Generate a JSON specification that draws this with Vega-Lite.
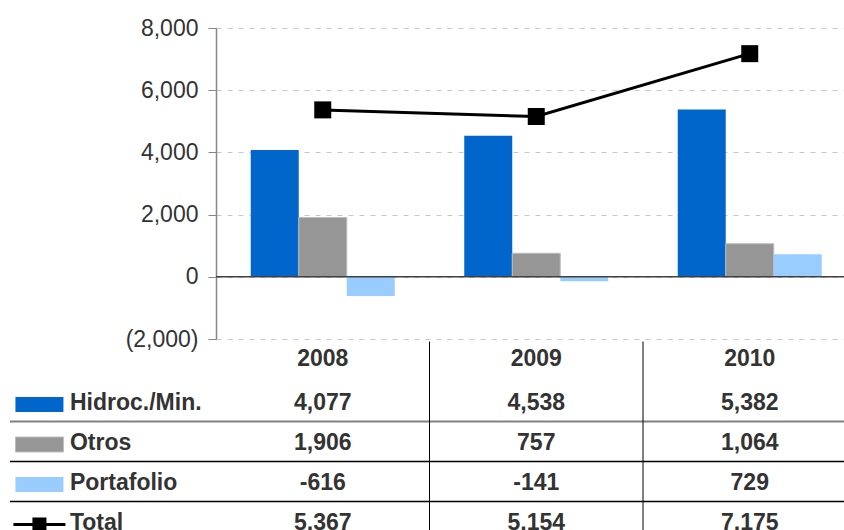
{
  "$schema": "https://vega.github.io/schema/vega-lite/v6.json",
  "width": 628,
  "height": 311,
  "autosize": {"type": "none"},
  "padding": {"left": 216, "top": 28, "right": 0, "bottom": 191},
  "background": "white",
  "config": {
    "font": "Liberation Sans",
    "view": {"stroke": null},
    "locale": {
      "number": {"decimal": ".", "thousands": ",", "grouping": [3], "currency": ["$", ""], "minus": "-"}
    }
  },
  "datasets": {
    "flujos": [
      {"year": "2008", "serie": "Hidroc./Min.", "value": 4077},
      {"year": "2008", "serie": "Otros", "value": 1906},
      {"year": "2008", "serie": "Portafolio", "value": -616},
      {"year": "2008", "serie": "Total", "value": 5367},
      {"year": "2009", "serie": "Hidroc./Min.", "value": 4538},
      {"year": "2009", "serie": "Otros", "value": 757},
      {"year": "2009", "serie": "Portafolio", "value": -141},
      {"year": "2009", "serie": "Total", "value": 5154},
      {"year": "2010", "serie": "Hidroc./Min.", "value": 5382},
      {"year": "2010", "serie": "Otros", "value": 1064},
      {"year": "2010", "serie": "Portafolio", "value": 729},
      {"year": "2010", "serie": "Total", "value": 7175}
    ]
  },
  "data": {"name": "flujos"},
  "resolve": {"scale": {"x": "independent", "y": "independent"}},
  "layer": [
    {
      "layer": [
        {
          "transform": [{"filter": "datum.serie !== 'Total'"}],
          "mark": {"type": "bar", "stroke": "#bdbdbd"},
          "encoding": {
            "x": {
              "field": "year", "type": "nominal",
              "scale": {"domain": ["2008", "2009", "2010"], "range": [0, 640.5], "paddingInner": 0.3255, "paddingOuter": 0.16275},
              "axis": null
            },
            "xOffset": {
              "field": "serie", "type": "nominal",
              "scale": {"domain": ["Hidroc./Min.", "Otros", "Portafolio"], "paddingInner": 0, "paddingOuter": 0}
            },
            "y": {
              "field": "value", "type": "quantitative",
              "scale": {"domain": [-2000, 8000], "nice": false, "zero": false},
              "axis": {
                "values": [-2000, 0, 2000, 4000, 6000, 8000],
                "labelExpr": "datum.value < 0 ? '(' + format(-datum.value, ',') + ')' : format(datum.value, ',') + '\u2008'",
                "labelFontSize": 23,
                "labelColor": "#333333",
                "labelPadding": 10,
                "tickSize": 8,
                "tickColor": "#868686",
                "domainColor": "#868686",
                "domainWidth": 1.5,
                "grid": true,
                "gridColor": "#c8c8c8",
                "gridDash": [5, 6],
                "gridWidth": 1,
                "title": null
              }
            },
            "color": {
              "field": "serie", "type": "nominal",
              "scale": {"domain": ["Hidroc./Min.", "Otros", "Portafolio", "Total"], "range": ["#0066cc", "#969696", "#99ccff", "#000000"]},
              "legend": null
            },
            "strokeWidth": {"condition": {"test": "datum.serie === 'Otros'", "value": 1}, "value": 0}
          }
        },
        {
          "transform": [{"filter": "datum.serie === 'Total' && datum.year === '2008'"}],
          "mark": {"type": "rule", "color": "#404040", "strokeWidth": 1.5},
          "encoding": {"y": {"datum": 0, "type": "quantitative"}}
        },
        {
          "transform": [{"filter": "datum.serie === 'Total'"}],
          "mark": {"type": "line", "color": "#000000", "strokeWidth": 3},
          "encoding": {
            "x": {"field": "year", "type": "nominal"},
            "y": {"field": "value", "type": "quantitative"}
          }
        },
        {
          "transform": [{"filter": "datum.serie === 'Total'"}],
          "mark": {"type": "point", "shape": "square", "filled": true, "opacity": 1, "size": 289, "color": "#000000"},
          "encoding": {
            "x": {"field": "year", "type": "nominal"},
            "y": {"field": "value", "type": "quantitative"}
          }
        }
      ]
    },
    {
      "layer": [
        {
          "transform": [{"filter": "datum.year === '2008' && datum.serie === 'Otros'"}],
          "mark": {"type": "rule", "color": "#808080", "strokeWidth": 2},
          "encoding": {
            "x": {
              "datum": "lbl", "type": "nominal", "bandPosition": 0.035,
              "scale": {"domain": ["lbl", "2008", "2009", "2010", "fin"], "range": [-213.5, 854], "paddingInner": 0, "paddingOuter": 0},
              "axis": null
            },
            "x2": {"datum": "fin"},
            "y": {
              "field": "serie", "type": "nominal", "bandPosition": 0,
              "scale": {"domain": ["hdr", "Hidroc./Min.", "Otros", "Portafolio", "Total", "fin"], "range": [313.5, 553.5], "paddingInner": 0, "paddingOuter": 0},
              "axis": null
            }
          }
        },
        {
          "transform": [{"filter": "datum.year === '2008' && (datum.serie === 'Portafolio' || datum.serie === 'Total')"}],
          "mark": {"type": "rule", "color": "#000000", "strokeWidth": 1.3},
          "encoding": {
            "x": {"datum": "lbl", "type": "nominal", "bandPosition": 0.035},
            "x2": {"datum": "fin"},
            "y": {"field": "serie", "type": "nominal", "bandPosition": 0}
          }
        },
        {
          "transform": [{"filter": "datum.serie === 'Total' && datum.year !== '2008'"}],
          "mark": {"type": "rule", "color": "#000000", "strokeWidth": 1},
          "encoding": {
            "x": {"field": "year", "type": "nominal", "bandPosition": 0},
            "y": {"datum": "hdr", "type": "nominal", "bandPosition": 0},
            "y2": {"datum": "fin"}
          }
        },
        {
          "transform": [{"filter": "datum.serie === 'Total'"}],
          "mark": {"type": "text", "fontSize": 23, "fontWeight": "bold", "color": "#333333", "dy": -3},
          "encoding": {
            "x": {"field": "year", "type": "nominal"},
            "y": {"datum": "hdr", "type": "nominal"},
            "text": {"field": "year", "type": "nominal"}
          }
        },
        {
          "mark": {"type": "text", "fontSize": 23, "fontWeight": "bold", "color": "#333333", "dy": 1},
          "encoding": {
            "x": {"field": "year", "type": "nominal"},
            "y": {"field": "serie", "type": "nominal"},
            "text": {"field": "value", "type": "quantitative", "format": ","}
          }
        },
        {
          "transform": [{"filter": "datum.year === '2008'"}],
          "mark": {"type": "text", "fontSize": 23, "fontWeight": "bold", "color": "#333333", "align": "left", "dy": 1},
          "encoding": {
            "x": {"datum": "lbl", "type": "nominal", "bandPosition": 0.316},
            "y": {"field": "serie", "type": "nominal"},
            "text": {"field": "serie", "type": "nominal"}
          }
        },
        {
          "transform": [{"filter": "datum.year === '2008'"}],
          "mark": {"type": "point", "filled": true, "opacity": 1, "size": 2704, "stroke": "#bdbdbd", "yOffset": 3},
          "encoding": {
            "x": {"datum": "lbl", "type": "nominal", "bandPosition": 0.173},
            "y": {"field": "serie", "type": "nominal"},
            "color": {"field": "serie", "type": "nominal", "legend": null},
            "shape": {
              "field": "serie", "type": "nominal",
              "scale": {
                "domain": ["Hidroc./Min.", "Otros", "Portafolio", "Total"],
                "range": [
                  "M-0.923,-0.288H0.923V0.288H-0.923Z",
                  "M-0.923,-0.288H0.923V0.288H-0.923Z",
                  "M-0.923,-0.288H0.923V0.288H-0.923Z",
                  "M-1,-0.058H1V0.058H-1Z M-0.27,-0.27H0.27V0.27H-0.27Z"
                ]
              },
              "legend": null
            },
            "strokeWidth": {"condition": {"test": "datum.serie === 'Otros'", "value": 1}, "value": 0}
          }
        }
      ]
    }
  ]
}
